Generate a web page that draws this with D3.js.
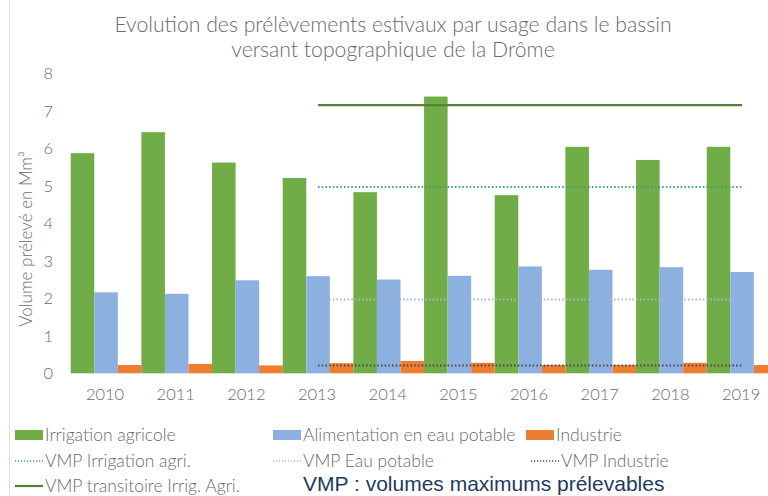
<!DOCTYPE html>
<html><head><meta charset="utf-8">
<script src="https://cdn.jsdelivr.net/npm/d3@7/dist/d3.min.js"></script>
<style>
html,body{margin:0;padding:0;background:#fff;overflow:hidden;}
svg{display:block;}
</style></head>
<body>
<script>
// ---- data ----
const years = ["2010","2011","2012","2013","2014","2015","2016","2017","2018","2019"];
const irrigation = [5.87, 6.43, 5.62, 5.21, 4.83, 7.38, 4.75, 6.04, 5.69, 6.04];
const eauPotable = [2.16, 2.12, 2.48, 2.59, 2.50, 2.60, 2.85, 2.76, 2.83, 2.70];
const industrie  = [0.22, 0.25, 0.21, 0.27, 0.33, 0.28, 0.22, 0.22, 0.28, 0.22];
const vmpYears = ["2013","2014","2015","2016","2017","2018","2019"];
const vmpIrrigation = [4.97, 4.97, 4.97, 4.97, 4.97, 4.97, 4.97];
const vmpEauPotable = [1.97, 1.97, 1.97, 1.97, 1.97, 1.97, 1.97];
const vmpIndustrie  = [0.21, 0.21, 0.21, 0.21, 0.21, 0.21, 0.21];
const vmpTransitoire = [7.15, 7.15, 7.15, 7.15, 7.15, 7.15, 7.15];
const yTicks = [0,1,2,3,4,5,6,7,8];
const titleLines = ["Evolution des prélèvements estivaux par usage dans le bassin","versant topographique de la Drôme"];
const yTitle = "Volume prélevé en Mm³";

const W = 768, H = 496;
const C = {green:"#70ad47", blue:"#8cb0df", orange:"#ed7d31", dark:"#548235",
           dotG:"#3a9f86", dotB:"#aab6cc", dotO:"#4a4650", text:"#6a6a6a"};
const FONT = "Lato, 'Open Sans', sans-serif";
const FW = 300;

const svg = d3.select("body").append("svg").attr("width",W).attr("height",H)
  .style("font-family",FONT).style("font-weight",FW);

// left frame line
svg.append("line").attr("x1",9.5).attr("x2",9.5).attr("y1",0).attr("y2",H)
  .attr("stroke","#dcdcdc").attr("stroke-width",1);

const x = d3.scaleBand().domain(years).range([70.7, 777.4]).paddingInner(0).paddingOuter(0);
const sub = d3.scaleBand().domain(["irr","eau","ind"]).range([0, x.bandwidth()]).padding(0);
const y = d3.scaleLinear().domain([0,8]).range([373.3, 73.3]);

// title
svg.append("g").selectAll("text").data(titleLines).join("text")
  .attr("x",393).attr("y",(d,i)=>32+i*25).attr("text-anchor","middle")
  .attr("fill",C.text).attr("font-size",21.2).text(d=>d);

// y axis
const yAxis = d3.axisLeft(y).tickValues(yTicks).tickSize(0).tickPadding(0).tickFormat(d3.format("d"));
const gy = svg.append("g").attr("transform","translate(53,0)").call(yAxis);
gy.select(".domain").remove();
gy.selectAll("text").attr("fill",C.text).attr("font-size",16.5).attr("font-family",FONT);

// y title
svg.append("text").attr("transform","translate(32,239) rotate(-90)")
  .attr("text-anchor","middle").attr("fill",C.text).attr("font-size",17).text(yTitle);

// x axis
const xAxis = d3.axisBottom(x).tickSize(0).tickPadding(0);
const gx = svg.append("g").attr("transform","translate(-1,388)").call(xAxis);
gx.select(".domain").remove();
gx.selectAll("text").attr("fill",C.text).attr("font-size",16.5).attr("font-family",FONT);

// bars
const series = [["irr",irrigation,C.green],["eau",eauPotable,C.blue],["ind",industrie,C.orange]];
series.forEach(([k,vals,col])=>{
  svg.append("g").selectAll("rect").data(years).join("rect")
    .attr("x",(d)=>x(d)+sub(k)).attr("width",sub.bandwidth())
    .attr("y",(d,i)=>y(vals[i])).attr("height",(d,i)=>y(0)-y(vals[i]))
    .attr("fill",col);
});

// lines
const line = vals => d3.line().x((d)=>x(d)+x.bandwidth()/2).y((d,i)=>y(vals[i]));
function drawLine(vals,col,w,dash){
  svg.append("path").datum(vmpYears).attr("d",line(vals)).attr("fill","none")
    .attr("stroke",col).attr("stroke-width",w).attr("stroke-dasharray",dash||null);
}
drawLine(vmpEauPotable,C.dotB,2,"1.5,2.2");
drawLine(vmpIndustrie,C.dotO,2,"1.5,2.2");
drawLine(vmpIrrigation,C.dotG,2,"1.5,2.2");
drawLine(vmpTransitoire,C.dark,2.2,null);

// legend
const LF = 17.5;
const leg = svg.append("g").attr("font-size",LF).attr("fill",C.text);
function rectItem(xs,yc,col,label){
  leg.append("rect").attr("x",xs).attr("y",yc-5).attr("width",28).attr("height",10).attr("fill",col);
  leg.append("text").attr("x",xs+30).attr("y",yc).attr("dy","0.35em").text(label);
}
function lineItem(xs,yc,col,dash,label,w){
  leg.append("line").attr("x1",xs).attr("x2",xs+28).attr("y1",yc).attr("y2",yc)
    .attr("stroke",col).attr("stroke-width",w||1.5).attr("stroke-dasharray",dash||null);
  leg.append("text").attr("x",xs+30).attr("y",yc).attr("dy","0.35em").text(label);
}
rectItem(15,435,C.green,"Irrigation agricole");
rectItem(273,435,C.blue,"Alimentation en eau potable");
rectItem(526,435,C.orange,"Industrie");
lineItem(15,461,C.dotG,"1.2,1.8","VMP Irrigation agri.");
lineItem(273,461,C.dotB,"1.2,1.8","VMP Eau potable");
lineItem(531,461,C.dotO,"1.2,1.8","VMP Industrie");
lineItem(15,486,C.dark,null,"VMP transitoire Irrig. Agri.",2.2);

svg.append("text").attr("x",303).attr("y",491).attr("fill","#1f3a5f")
  .attr("font-family","'Liberation Sans', Arial, sans-serif").attr("font-weight",400).attr("font-size",21)
  .text("VMP : volumes maximums prélevables");
</script>
</body></html>
